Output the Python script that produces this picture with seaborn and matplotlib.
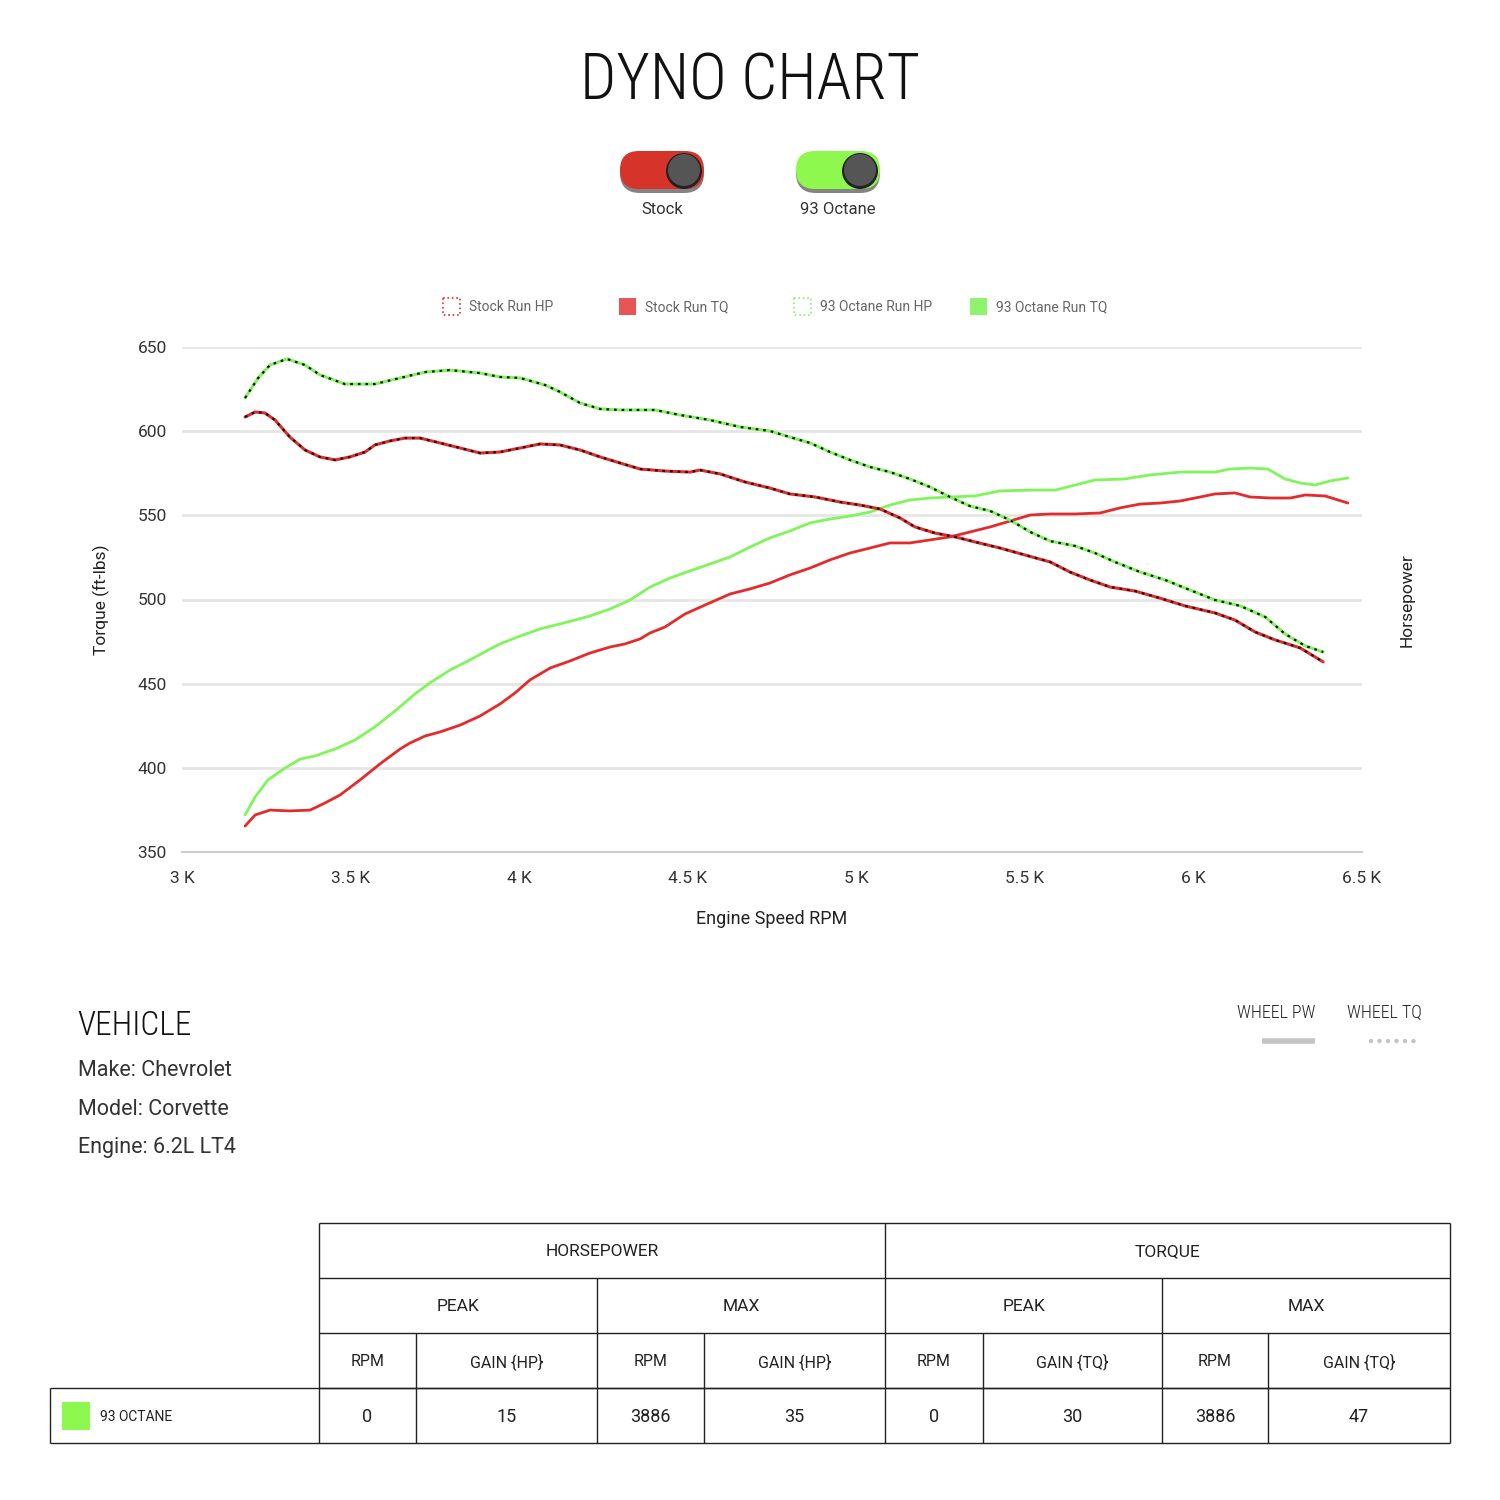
import matplotlib
matplotlib.use("Agg")
import matplotlib.pyplot as plt
import seaborn as sns
import pandas as pd
from matplotlib import font_manager
from matplotlib.patches import FancyBboxPatch, Circle, Rectangle

# --- dyno data ---
stock_hp_rpm = [3187, 3217, 3246, 3276, 3320, 3365, 3409, 3454, 3498, 3543, 3572, 3617, 3661, 3706,
                3765, 3825, 3884, 3943, 4003, 4062, 4121, 4181, 4240, 4299, 4359, 4433, 4507, 4536,
                4596, 4670, 4744, 4803, 4878, 4952, 5011, 5070, 5130, 5174, 5233, 5293, 5352, 5426,
                5501, 5575, 5634, 5693, 5753, 5827, 5901, 5975, 6064, 6123, 6183, 6242, 6317, 6385]
stock_hp = [608.4, 611.4, 610.8, 606.6, 596.5, 588.8, 584.7, 582.9, 584.7, 587.6, 591.8, 594.2, 595.9, 595.9,
            593.0, 590.0, 587.0, 587.6, 590.0, 592.4, 591.8, 588.8, 584.7, 581.1, 577.5, 576.3, 575.7, 576.9,
            574.6, 569.8, 566.2, 562.7, 560.9, 557.9, 556.1, 553.8, 548.4, 543.1, 539.5, 537.2, 534.2, 530.6,
            526.4, 522.3, 516.3, 511.6, 507.4, 505.0, 500.8, 496.2, 492.0, 487.8, 480.7, 476.0, 471.2, 462.9]

stock_tq_rpm = [3187, 3217, 3261, 3320, 3380, 3424, 3469, 3528, 3587, 3647, 3676, 3721, 3765, 3825,
                3884, 3943, 3988, 4032, 4092, 4151, 4210, 4270, 4314, 4359, 4388, 4433, 4492, 4551,
                4626, 4685, 4744, 4803, 4863, 4922, 4981, 5041, 5100, 5159, 5219, 5278, 5337, 5397,
                5456, 5516, 5575, 5649, 5723, 5782, 5842, 5901, 5960, 6020, 6064, 6123, 6168, 6228,
                6287, 6332, 6391, 6458]
stock_tq = [365.4, 372.0, 374.9, 374.4, 374.9, 379.1, 383.9, 392.8, 402.3, 411.2, 414.7, 418.9, 421.3, 425.4,
            430.8, 437.9, 444.5, 452.2, 459.3, 463.5, 468.2, 471.8, 473.6, 476.6, 480.1, 483.7, 491.4, 496.7,
            503.3, 506.3, 509.8, 514.6, 518.7, 523.5, 527.6, 530.6, 533.6, 533.6, 535.4, 537.2, 540.1, 543.1,
            546.6, 550.2, 550.8, 550.8, 551.4, 554.4, 556.7, 557.3, 558.5, 560.9, 562.7, 563.3, 560.9, 560.3,
            560.3, 562.1, 561.5, 557.3]

octane_hp_rpm = [3187, 3226, 3261, 3311, 3365, 3409, 3483, 3572, 3647, 3721, 3795, 3884, 3943, 4003,
                 4077, 4121, 4181, 4240, 4299, 4403, 4477, 4566, 4655, 4744, 4803, 4863, 4922, 4981,
                 5041, 5100, 5159, 5219, 5278, 5337, 5397, 5456, 5516, 5575, 5649, 5708, 5767, 5842,
                 5916, 5990, 6064, 6139, 6213, 6272, 6332, 6385]
octane_hp = [619.7, 631.6, 639.3, 642.9, 639.3, 633.4, 628.0, 628.0, 631.6, 635.1, 636.3, 634.5, 632.2, 631.6,
             627.4, 623.3, 616.7, 613.2, 612.6, 612.6, 609.6, 606.6, 602.5, 600.1, 596.5, 593.0, 587.6, 582.9,
             578.7, 575.7, 571.6, 566.8, 560.9, 555.5, 552.6, 547.2, 540.1, 534.7, 531.8, 527.6, 522.3, 516.3,
             511.6, 505.6, 499.7, 496.2, 489.6, 479.5, 472.4, 468.8]

octane_tq_rpm = [3187, 3217, 3255, 3306, 3350, 3394, 3454, 3513, 3572, 3632, 3691, 3735, 3795, 3854,
                 3914, 3943, 4003, 4062, 4121, 4166, 4210, 4270, 4329, 4388, 4448, 4507, 4566, 4626,
                 4685, 4744, 4803, 4863, 4922, 4981, 5041, 5100, 5159, 5219, 5278, 5352, 5426, 5516,
                 5590, 5649, 5708, 5797, 5871, 5960, 6064, 6108, 6168, 6221, 6272, 6317, 6361, 6405, 6458]
octane_tq = [372.0, 382.7, 392.8, 399.9, 405.2, 407.0, 411.2, 416.5, 424.3, 433.8, 443.9, 450.4, 458.1, 464.1,
             470.6, 473.6, 478.3, 482.5, 485.5, 487.8, 490.2, 494.4, 499.7, 507.4, 512.8, 517.0, 521.1, 525.3,
             531.2, 536.6, 540.7, 545.5, 547.8, 549.6, 552.0, 556.1, 559.1, 560.3, 560.9, 561.5, 564.5, 565.0,
             565.0, 568.0, 571.0, 571.6, 574.0, 575.7, 575.7, 577.5, 578.1, 577.5, 571.6, 569.2, 568.0, 570.4, 572.2]

y_ticks = [350, 400, 450, 500, 550, 600, 650]
x_ticks = [3000, 3500, 4000, 4500, 5000, 5500, 6000, 6500]
x_tick_labels = ["3 K", "3.5 K", "4 K", "4.5 K", "5 K", "5.5 K", "6 K", "6.5 K"]

legend_labels = ["Stock Run HP", "Stock Run TQ", "93 Octane Run HP", "93 Octane Run TQ"]
vehicle_lines = ["Make: Chevrolet", "Model: Corvette", "Engine: 6.2L LT4"]

table_groups = ["HORSEPOWER", "TORQUE"]
table_sub = ["PEAK", "MAX", "PEAK", "MAX"]
table_cols = ["RPM", "GAIN {HP}", "RPM", "GAIN {HP}", "RPM", "GAIN {TQ}", "RPM", "GAIN {TQ}"]
table_row_name = "93 OCTANE"
table_values = [0, 15, 3886, 35, 0, 30, 3886, 47]

RED = "#e42b2b"
GREEN = "#80f55a"

sns.set_theme(style="white")
installed = {f.name for f in font_manager.fontManager.ttflist}
plt.rcParams['font.family'] = ['Roboto', 'DejaVu Sans']
narrow = None
for cand in ["Roboto Condensed", "Liberation Sans Narrow"]:
    if cand in installed:
        narrow = cand
        break
if narrow is None:
    narrow = "Roboto"
    title_size, vehicle_size, wheel_size = 42, 22, 11.5
else:
    title_size, vehicle_size, wheel_size = 46, 24, 13

fig = plt.figure(figsize=(15, 15), dpi=100)
fig.patch.set_facecolor("white")

# full-figure overlay in pixel coordinates for the decorations
bg = fig.add_axes([0, 0, 1, 1], zorder=0)
bg.set_xlim(0, 1500)
bg.set_ylim(1500, 0)
bg.axis("off")

bg.text(750, 82, "DYNO CHART", ha="center", va="center", fontsize=title_size,
        family=narrow, fontweight="light", color="#111111")

# toggle switches
for cx, col, lab in [(662, "#d6342b", "Stock"), (838, "#8ef84f", "93 Octane")]:
    bg.add_patch(FancyBboxPatch((cx - 42, 153), 84, 40, boxstyle="round,pad=0,rounding_size=20",
                                fc="#333333", ec="none", alpha=0.6))
    bg.add_patch(FancyBboxPatch((cx - 42, 151), 84, 38, boxstyle="round,pad=0,rounding_size=19",
                                fc=col, ec="none"))
    bg.add_patch(Circle((cx + 22, 171), 18, fc="#222222", ec="none"))
    bg.add_patch(Circle((cx + 22, 170), 16, fc="#555555", ec="none"))
    bg.text(cx, 209, lab, ha="center", va="center", fontsize=12, color="#333333")

# legend row
leg_x = [443, 619, 794, 970]
leg_style = [(RED, False), ("#e85555", True), (GREEN, False), ("#8ef470", True)]
for x0, lab, (c, filled) in zip(leg_x, legend_labels, leg_style):
    if filled:
        bg.add_patch(Rectangle((x0, 298), 17, 17, fc=c, ec="none"))
    else:
        bg.add_patch(Rectangle((x0, 298), 17, 17, fc="none", ec=c, ls=":", lw=1.2))
    bg.text(x0 + 26, 307, lab, ha="left", va="center", fontsize=10, color="#666666")

# --- main chart ---
ax = fig.add_axes([182 / 1500, 1 - 852 / 1500, 1180 / 1500, 505 / 1500], zorder=1)
ax.patch.set_alpha(0)

sns.lineplot(x=stock_tq_rpm, y=stock_tq, ax=ax, color=RED, lw=2, zorder=3)
sns.lineplot(x=octane_tq_rpm, y=octane_tq, ax=ax, color=GREEN, lw=2, zorder=3)
sns.lineplot(x=stock_hp_rpm, y=stock_hp, ax=ax, color=RED, lw=2.2, zorder=4)
sns.lineplot(x=stock_hp_rpm, y=stock_hp, ax=ax, color="#111111", lw=1.6, zorder=5,
             linestyle=(0, (1.2, 2.2)))
sns.lineplot(x=octane_hp_rpm, y=octane_hp, ax=ax, color=GREEN, lw=2.2, zorder=4)
sns.lineplot(x=octane_hp_rpm, y=octane_hp, ax=ax, color="#111111", lw=1.6, zorder=5,
             linestyle=(0, (1.2, 2.2)))

ax.set_xlim(3000, 6500)
ax.set_ylim(350, 650)
ax.set_yticks(y_ticks)
ax.set_xticks(x_ticks)
ax.set_xticklabels(x_tick_labels)
ax.grid(axis="y", color="#e6e6e6", lw=2)
ax.grid(axis="x", visible=False)
for s in ["top", "right", "left"]:
    ax.spines[s].set_visible(False)
ax.spines["bottom"].set_color("#cccccc")
ax.spines["bottom"].set_linewidth(1.5)
ax.tick_params(axis="x", length=6, width=1.2, color="#cccccc", labelsize=12.5, labelcolor="#333333", pad=8)
ax.tick_params(axis="y", length=0, labelsize=12.5, labelcolor="#333333", pad=11)
ax.set_xlabel("Engine Speed RPM", fontsize=13, color="#222222", labelpad=17)
ax.set_ylabel("Torque (ft-lbs)", fontsize=12.5, color="#222222", labelpad=20)

bg.text(1407, 600, "Horsepower", rotation=90, ha="center", va="center", fontsize=12.5, color="#222222")

# --- vehicle block ---
bg.text(77, 1026, "VEHICLE", ha="left", va="center", fontsize=vehicle_size, family=narrow,
        fontweight="light", color="#111111")
for i, line in enumerate(vehicle_lines):
    bg.text(78, 1071 + i * 38.5, line, ha="left", va="center", fontsize=15.5, fontweight="normal",
            color="#333333")

bg.text(1315, 1013, "WHEEL PW", ha="right", va="center", fontsize=wheel_size, family=narrow,
        fontweight="light", color="#222222")
bg.plot([1262, 1315], [1041, 1041], color="#c4c4c4", lw=4, solid_capstyle="butt")
bg.text(1422, 1013, "WHEEL TQ", ha="right", va="center", fontsize=wheel_size, family=narrow,
        fontweight="light", color="#222222")
bg.plot([1371, 1421], [1041, 1041], color="#c4c4c4", lw=3.2, linestyle=(0, (0.01, 1.9)),
        dash_capstyle="round")

# --- summary table ---
col_edges = [319, 416, 597, 704, 885, 983, 1162, 1268, 1450]
row_edges = [1223, 1278, 1333, 1388, 1443]
lc = "#222222"
bg.hlines(row_edges[:4], 319, 1450, color=lc, lw=1)
bg.hlines([row_edges[3], row_edges[4]], 50, 1450, color=lc, lw=1)
bg.vlines([50], row_edges[3], row_edges[4], color=lc, lw=1)
bg.vlines([319, 885, 1450], row_edges[0], row_edges[4], color=lc, lw=1)
bg.vlines([597, 1162], row_edges[1], row_edges[4], color=lc, lw=1)
bg.vlines([416, 704, 983, 1268], row_edges[2], row_edges[4], color=lc, lw=1)

def mid(a, b):
    return (a + b) / 2

yc = [mid(row_edges[i], row_edges[i + 1]) for i in range(4)]
for i, g in enumerate(table_groups):
    bg.text(mid(col_edges[i * 4], col_edges[i * 4 + 4]), yc[0] + 1, g, ha="center", va="center",
            fontsize=12.5, color="#222222")
for i, s in enumerate(table_sub):
    bg.text(mid(col_edges[i * 2], col_edges[i * 2 + 2]), yc[1] + 1, s, ha="center", va="center",
            fontsize=12.5, color="#222222")
for i, c in enumerate(table_cols):
    bg.text(mid(col_edges[i], col_edges[i + 1]), yc[2] + 1, c, ha="center", va="center",
            fontsize=11.5, color="#222222")
for i, v in enumerate(table_values):
    bg.text(mid(col_edges[i], col_edges[i + 1]), yc[3] + 1, str(v), ha="center", va="center",
            fontsize=13, color="#222222")
bg.add_patch(Rectangle((62, 1402), 28, 28, fc="#8ef84f", ec="none"))
bg.text(100, 1417, table_row_name, ha="left", va="center", fontsize=10, color="#222222")

fig.savefig("out.png", dpi=100, facecolor="white")
